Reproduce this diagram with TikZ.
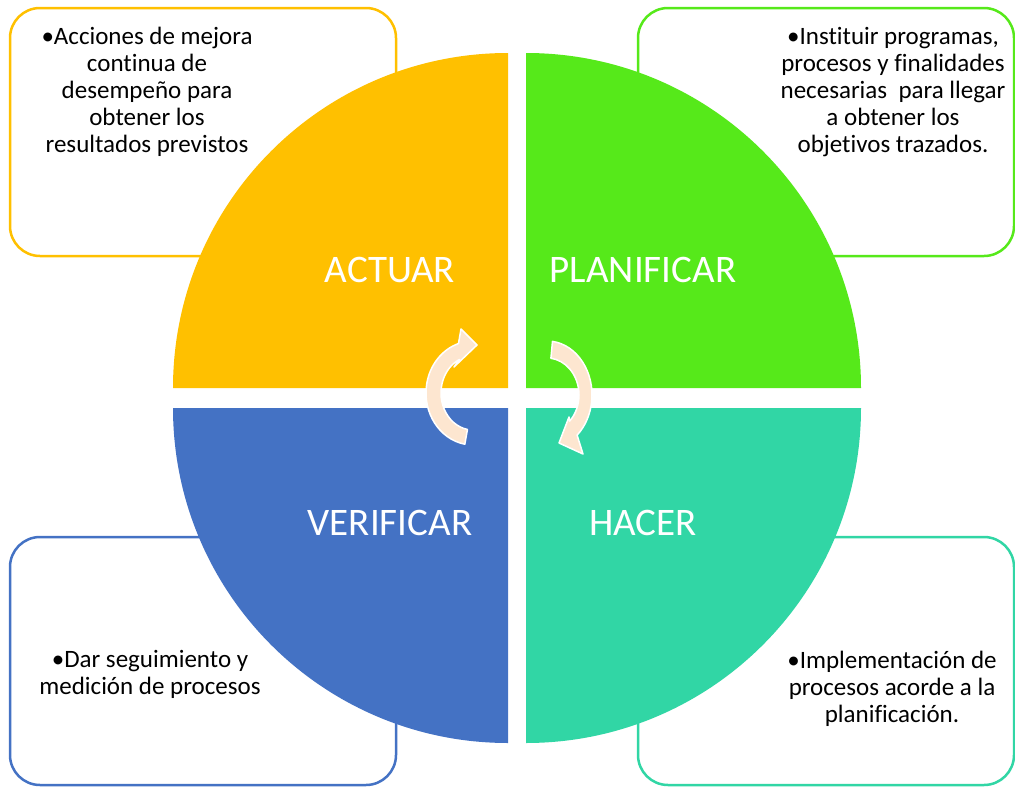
\documentclass[tikz,border=0pt]{standalone}
\usepackage{fontspec}
\setmainfont{Carlito}[Ligatures=NoCommon]
\usepackage{xcolor}
\usepackage{tikz}
\usetikzlibrary{positioning}

\definecolor{amarillo}{HTML}{FFC000}
\definecolor{verde}{HTML}{56E91A}
\definecolor{azul}{HTML}{4472C4}
\definecolor{turquesa}{HTML}{31D6A5}
\definecolor{durazno}{HTML}{FDE6D0}

\tikzset{
  caja/.style={line width=2.5, rounded corners=30, fill=white},
  etiqueta/.style={text=white, font=\fontsize{39}{41}\selectfont},
  texto/.style={align=center, inner sep=0, font=\fontsize{25}{27}\selectfont},
  flecha/.style={fill=durazno, draw=white, line width=1.5, line join=round},
}

\begin{document}
\begin{tikzpicture}[x=1pt,y=-1pt]
        \useasboundingbox (0,0) rectangle (1015,787);

        % cajas de texto
        \draw[caja, draw=amarillo] (10,8) rectangle (396,256);
        \draw[caja, draw=verde] (638,8) rectangle (1014,256);
        \draw[caja, draw=azul] (10,537) rectangle (396,785);
        \draw[caja, draw=turquesa] (638,537) rectangle (1014,785);

        % cuadrantes del ciclo
        \fill[amarillo] (508,388) -- (173,388) arc[start angle=180, end angle=270, radius=335] -- cycle;
        \fill[verde] (526,388) -- (526,53) arc[start angle=270, end angle=360, radius=335] -- cycle;
        \fill[turquesa] (526,408) -- (861,408) arc[start angle=0, end angle=90, radius=335] -- cycle;
        \fill[azul] (508,408) -- (508,743) arc[start angle=90, end angle=180, radius=335] -- cycle;

        \node[etiqueta] (actuar) at (390,270) {ACTUAR};
        \node[etiqueta] (planificar) at (643,270) {PLANIFICAR};
        \node[etiqueta] (verificar) at (390,523) {VERIFICAR};
        \node[etiqueta] (hacer) at (643,523) {HACER};

        % flechas circulares
        \draw[flecha, shift={(473,393)}] (100:47 and 52)
          arc[start angle=100, end angle=252, x radius=47, y radius=52]
          -- (-12,-64) -- (4,-48) -- (-19,-26) -- (245:32 and 37)
          arc[start angle=245, end angle=100, x radius=32, y radius=37] -- cycle;
        \draw[flecha, shift={(547,395)}] (-83:45 and 54)
          arc[start angle=-83, end angle=48, x radius=45, y radius=54]
          -- (36,59) -- (12,48) -- (22,22) -- (45:32 and 37)
          arc[start angle=45, end angle=-83, x radius=32, y radius=37] -- cycle;

        \node[texto] (txtactuar) at (147,92) {•Acciones de mejora\\continua de\\desempeño para\\obtener los\\resultados previstos};
        \node[texto] (txtplanificar) at (893,92) {•Instituir programas,\\procesos y finalidades\\necesarias~ para llegar\\a obtener los\\objetivos trazados.};
        \node[texto] (txtverificar) at (150,674) {•Dar seguimiento y\\medición de procesos};
        \node[texto] (txthacer) at (892,689) {•Implementación de\\procesos acorde a la\\planificación.};
\end{tikzpicture}
\end{document}
